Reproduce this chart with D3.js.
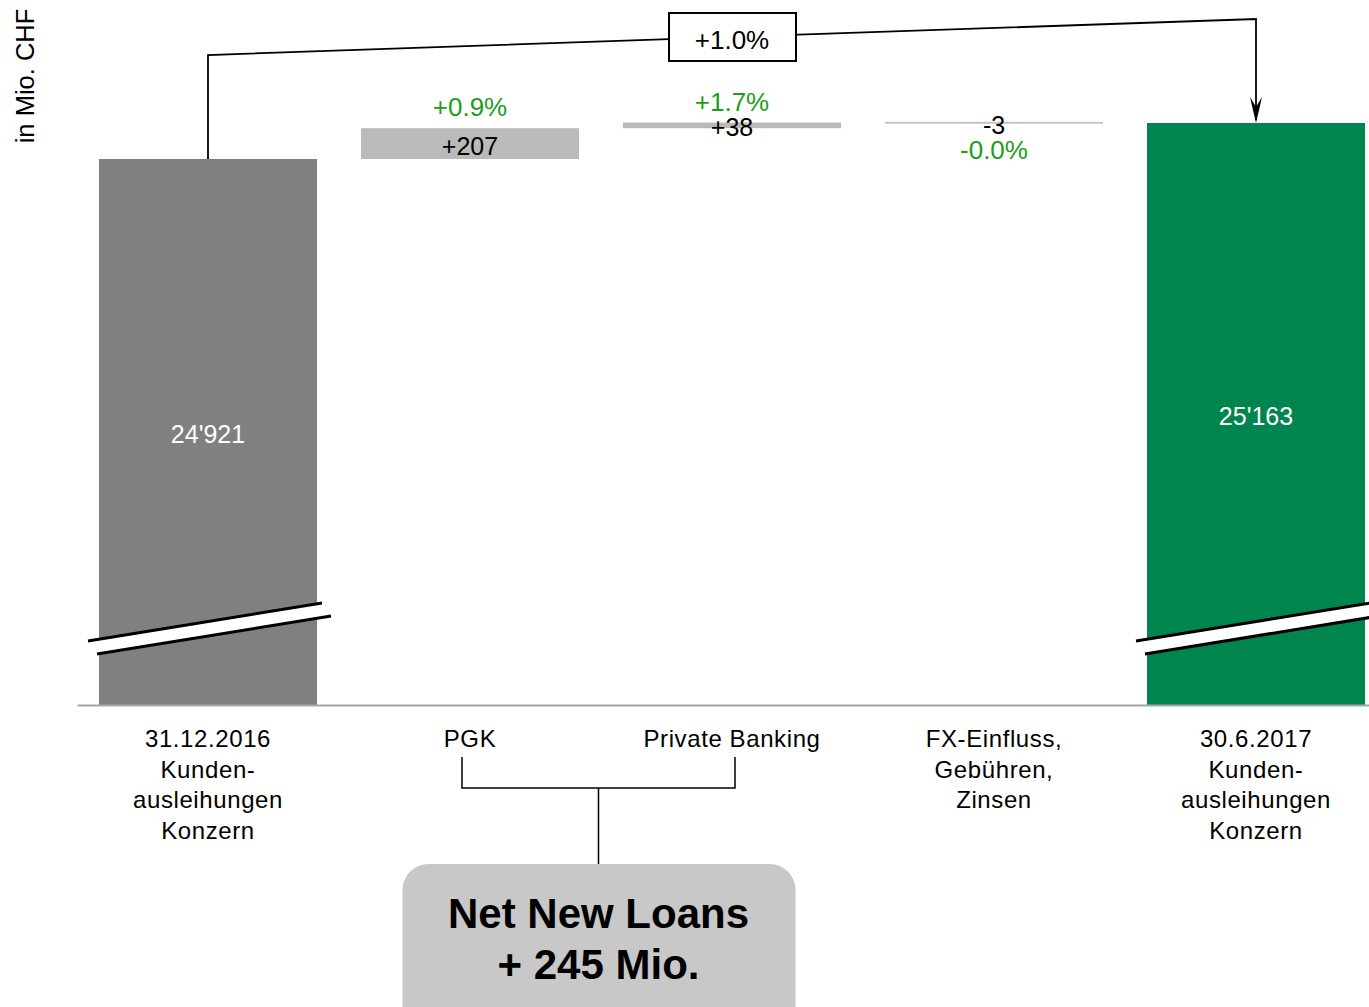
<!DOCTYPE html>
<html>
<head>
<meta charset="utf-8">
<script src="https://cdn.jsdelivr.net/npm/d3@7"></script>
<style>
  html, body { margin: 0; padding: 0; background: #fff; }
  svg { display: block; font-family: "Liberation Sans", Arial, sans-serif; }
</style>
</head>
<body>
<svg id="chart" width="1369" height="1007"></svg>
<script>
// ---------- data ----------
const categories = [
  ["31.12.2016", "Kunden-", "ausleihungen", "Konzern"],
  ["PGK"],
  ["Private Banking"],
  ["FX-Einfluss,", "Gebühren,", "Zinsen"],
  ["30.6.2017", "Kunden-", "ausleihungen", "Konzern"]
];
const barTypes = ["total", "delta", "delta", "delta", "total"];
const values = [24921, 207, 38, -3, 25163];
const valueLabels = ["24'921", "+207", "+38", "-3", "25'163"];
const pctLabels = [null, "+0.9%", "+1.7%", "-0.0%", null];
const totalChangeLabel = "+1.0%";
const netNewLoansLines = ["Net New Loans", "+ 245 Mio."];
const axisTitle = "in Mio. CHF";
const yDomain = [21251, 25163];   // broken axis: visible value range

// ---------- layout ----------
const svg = d3.select("#chart");

const x = d3.scaleBand()
  .domain(d3.range(categories.length))
  .range([77, 1387])
  .paddingInner(0.168)
  .paddingOuter(0.084);

const y = d3.scaleLinear().domain(yDomain).range([705, 123]);

// compute waterfall positions
let running = 0;
const bars = values.map((v, i) => {
  let lo, hi;
  if (barTypes[i] === "total") {
    lo = yDomain[0]; hi = v; running = v;
  } else {
    const start = running; running += v;
    lo = Math.min(start, running); hi = Math.max(start, running);
  }
  return { i, v, lo, hi, type: barTypes[i] };
});

const colors = ["#808080", "#bababa", "#bababa", "#c4c4c4", "#00854f"];
const green = "#1c9e1c";

// ---------- bars ----------
svg.append("g").selectAll("rect").data(bars).join("rect")
  .attr("x", d => x(d.i))
  .attr("width", x.bandwidth())
  .attr("y", d => {
    const h = y(d.lo) - y(d.hi);
    return h < 2 ? (y(d.lo) + y(d.hi)) / 2 - 1 : y(d.hi);
  })
  .attr("height", d => Math.max(2, y(d.lo) - y(d.hi)))
  .attr("fill", d => colors[d.i]);

// ---------- axis ----------
const xAxis = d3.axisBottom(x).tickSize(0).tickSizeOuter(0).tickFormat("");
const axisG = svg.append("g").attr("transform", `translate(0,${y.range()[0]})`).call(xAxis);
axisG.select(".domain").attr("stroke", "#a6a6a6").attr("stroke-width", 2);

const catG = svg.append("g").attr("font-size", 24).attr("fill", "#000").attr("text-anchor", "middle");
categories.forEach((lines, i) => {
  const t = catG.append("text")
    .attr("x", x(i) + x.bandwidth() / 2)
    .attr("y", y.range()[0] + 42)
    .attr("letter-spacing", 0.6);
  lines.forEach((ln, k) => {
    t.append("tspan").attr("x", x(i) + x.bandwidth() / 2).attr("dy", k === 0 ? 0 : 30.7).text(ln);
  });
});

// ---------- axis break marks on total bars ----------
const breakOffsetY = 77;   // px above axis
bars.filter(d => d.type === "total").forEach(d => {
  const x0 = x(d.i) - 11, x1 = x(d.i) + x.bandwidth() + 5;
  const yc = y.range()[0] - breakOffsetY;
  const yl = yc + 13, yr = yc - 25;
  const dx = 9, dy = 13;
  svg.append("path")
    .attr("d", `M${x0},${yl} L${x1},${yr} L${x1 + dx},${yr + dy} L${x0 + dx},${yl + dy} Z`)
    .attr("fill", "#fff");
  svg.append("line").attr("x1", x0).attr("y1", yl).attr("x2", x1).attr("y2", yr)
    .attr("stroke", "#000").attr("stroke-width", 3);
  svg.append("line").attr("x1", x0 + dx).attr("y1", yl + dy).attr("x2", x1 + dx).attr("y2", yr + dy)
    .attr("stroke", "#000").attr("stroke-width", 3);
});

// ---------- value labels ----------
const lblG = svg.append("g").attr("text-anchor", "middle");
bars.forEach(d => {
  const cx = x(d.i) + x.bandwidth() / 2;
  const top = y(d.hi), bot = y(d.lo);
  lblG.append("text")
    .attr("x", cx)
    .attr("y", (top + bot) / 2 + 11)
    .attr("font-size", 25)
    .attr("fill", d.type === "total" ? "#fff" : "#000")
    .text(valueLabels[d.i]);
  if (pctLabels[d.i]) {
    lblG.append("text")
      .attr("x", cx)
      .attr("y", d.v >= 0 ? top - 12 : (top + bot) / 2 + 36)
      .attr("font-size", 26)
      .attr("fill", green)
      .text(pctLabels[d.i]);
  }
});

// ---------- total change connector ----------
const first = bars[0], last = bars[bars.length - 1];
const xa = x(first.i) + x.bandwidth() / 2, xb = x(last.i) + x.bandwidth() / 2;
const ya = 55, yb = 19;
const conn = svg.append("g").attr("stroke", "#000").attr("stroke-width", 1.8).attr("fill", "none");
conn.append("path").attr("d", `M${xa},${y(first.hi)} L${xa},${ya} L${xb},${yb} L${xb},${y(last.hi) - 3}`);
// arrowhead
svg.append("path")
  .attr("d", `M${xb - 6},${y(last.hi) - 26} L${xb},${y(last.hi)} L${xb + 6},${y(last.hi) - 26} L${xb},${y(last.hi) - 16} Z`)
  .attr("fill", "#000");
// box on the line
const bx = x(2) + x.bandwidth() / 2;
const byc = ya + (yb - ya) * (bx - xa) / (xb - xa);
svg.append("rect")
  .attr("x", bx - 63).attr("y", byc - 24).attr("width", 127).attr("height", 48)
  .attr("fill", "#fff").attr("stroke", "#000").attr("stroke-width", 2);
svg.append("text")
  .attr("x", bx).attr("y", byc + 12)
  .attr("text-anchor", "middle").attr("font-size", 26).attr("fill", "#000")
  .text(totalChangeLabel);

// ---------- Net New Loans bracket ----------
const bl = x(1) + x.bandwidth() / 2 - 8, br = x(2) + x.bandwidth() / 2 + 3;
const bm = (bl + br) / 2;
const brG = svg.append("g").attr("stroke", "#000").attr("stroke-width", 1.5).attr("fill", "none");
brG.append("path").attr("d", `M${bl},757 L${bl},788 L${br},788 L${br},757`);
brG.append("path").attr("d", `M${bm},788 L${bm},864`);
svg.append("rect")
  .attr("x", bm - 196).attr("y", 864).attr("width", 393).attr("height", 170)
  .attr("rx", 26).attr("ry", 26)
  .attr("fill", "#c8c8c8");
const nnl = svg.append("text")
  .attr("text-anchor", "middle").attr("font-size", 42).attr("font-weight", "bold").attr("fill", "#000");
netNewLoansLines.forEach((ln, k) => {
  nnl.append("tspan").attr("x", bm).attr("y", 928 + k * 51).text(ln);
});

// ---------- axis title ----------
svg.append("text")
  .attr("transform", "translate(34,76) rotate(-90)")
  .attr("text-anchor", "middle").attr("font-size", 25.5).attr("fill", "#000")
  .text(axisTitle);
</script>
</body>
</html>
